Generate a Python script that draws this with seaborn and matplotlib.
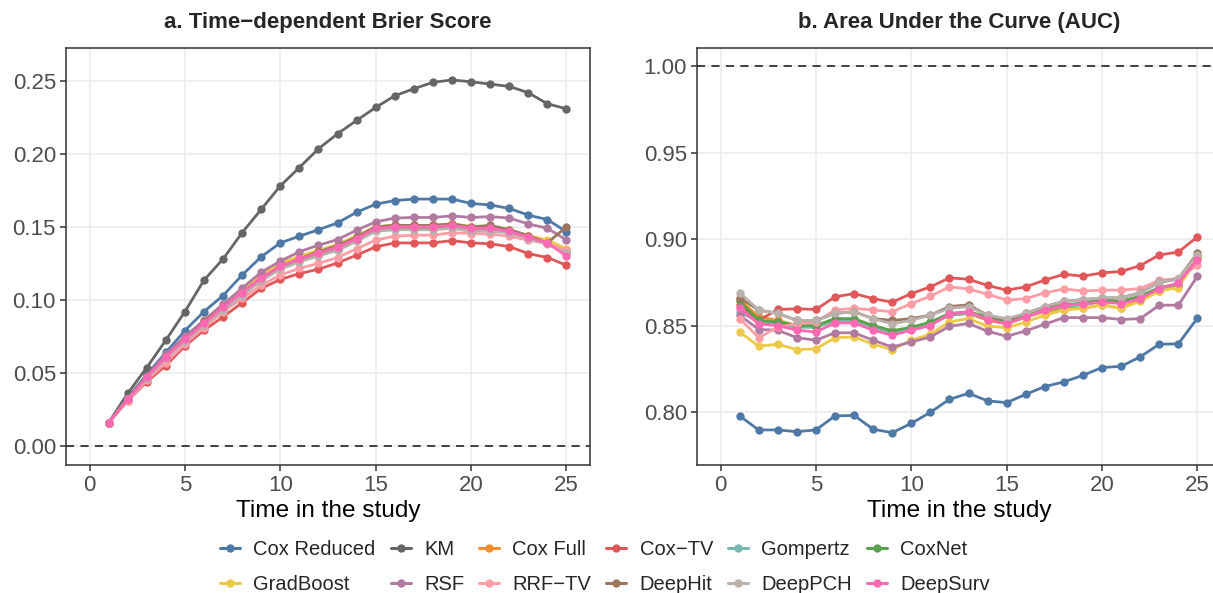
import numpy as np
import pandas as pd
import matplotlib
matplotlib.use("Agg")
import matplotlib.pyplot as plt
from matplotlib.lines import Line2D
import seaborn as sns

sns.set_theme(style="white")
plt.rcParams['font.family'] = ['Liberation Sans', 'DejaVu Sans']

MINUS = "\u2212"
times = list(range(1, 26))
models = ["Cox Reduced", "KM", "Cox Full", f"Cox{MINUS}TV", "Gompertz", "CoxNet",
          "GradBoost", "RSF", f"RRF{MINUS}TV", "DeepHit", "DeepPCH", "DeepSurv"]
colors = ["#4E79A7", "#666666", "#F28E2B", "#E15759", "#76B7B2", "#59A14F",
          "#EDC948", "#B07AA1", "#FF9DA7", "#9C755F", "#BAB0AC", "#FF69B4"]

# Brier scores
bs_cox_reduced = [0.016,0.033,0.049,0.064,0.079,0.092,0.103,0.117,0.1295,0.139,0.1436,0.148,0.1527,0.160,0.1655,0.168,0.169,0.169,0.169,0.166,0.165,0.1626,0.158,0.155,0.1466]
bs_km = [0.016,0.036,0.0537,0.0724,0.092,0.1135,0.128,0.146,0.162,0.178,0.1906,0.2034,0.2137,0.2228,0.2317,0.2397,0.2445,0.2489,0.2505,0.2493,0.2477,0.2461,0.2418,0.2342,0.2308]
bs_cox_full = [0.016,0.032,0.047,0.061,0.073,0.084,0.095,0.105,0.115,0.124,0.129,0.133,0.137,0.143,0.150,0.151,0.151,0.151,0.152,0.150,0.150,0.148,0.144,0.140,0.133]
bs_cox_tv = [0.016,0.031,0.044,0.055,0.0685,0.0792,0.0884,0.098,0.1078,0.114,0.118,0.121,0.1253,0.1306,0.1363,0.139,0.139,0.139,0.1406,0.139,0.1384,0.1365,0.1317,0.129,0.1237]
bs_gompertz = [0.016,0.032,0.047,0.061,0.073,0.084,0.094,0.104,0.114,0.122,0.127,0.131,0.135,0.141,0.148,0.149,0.149,0.149,0.150,0.148,0.148,0.146,0.143,0.139,0.133]
bs_coxnet = [0.016,0.032,0.047,0.061,0.073,0.084,0.094,0.104,0.114,0.122,0.127,0.131,0.134,0.141,0.148,0.149,0.149,0.149,0.150,0.148,0.148,0.147,0.143,0.139,0.132]
bs_gradboost = [0.016,0.032,0.047,0.061,0.074,0.086,0.097,0.107,0.117,0.125,0.130,0.134,0.138,0.144,0.150,0.151,0.151,0.151,0.152,0.150,0.150,0.148,0.144,0.141,0.135]
bs_rsf = [0.016,0.032,0.048,0.063,0.075,0.086,0.097,0.108,0.119,0.1265,0.133,0.1374,0.1413,0.1477,0.1534,0.156,0.1564,0.1564,0.1575,0.1564,0.157,0.156,0.152,0.149,0.141]
bs_rrf_tv = [0.016,0.031,0.045,0.057,0.070,0.081,0.092,0.101,0.110,0.117,0.1215,0.125,0.129,0.135,0.1409,0.1436,0.1443,0.1443,0.146,0.1454,0.145,0.1436,0.1409,0.1386,0.134]
bs_deephit = [0.016,0.032,0.047,0.061,0.073,0.085,0.095,0.105,0.115,0.123,0.128,0.133,0.137,0.143,0.150,0.151,0.151,0.151,0.152,0.150,0.151,0.148,0.144,0.139,0.150]
bs_deeppch = [0.016,0.032,0.046,0.060,0.072,0.083,0.093,0.103,0.113,0.121,0.126,0.130,0.134,0.140,0.147,0.148,0.148,0.148,0.149,0.147,0.147,0.146,0.142,0.138,0.132]
bs_deepsurv = [0.016,0.032,0.047,0.061,0.073,0.084,0.095,0.105,0.115,0.123,0.128,0.132,0.136,0.142,0.149,0.150,0.150,0.150,0.151,0.149,0.149,0.147,0.143,0.139,0.130]

# AUC (KM not shown)
auc_cox_reduced = [0.7977,0.7896,0.7896,0.7886,0.7896,0.7977,0.798,0.790,0.788,0.7934,0.7998,0.8073,0.8108,0.8064,0.8054,0.8102,0.8147,0.8174,0.8212,0.8257,0.8264,0.8319,0.8392,0.8394,0.8544]
auc_cox_full = [0.865,0.855,0.853,0.850,0.849,0.853,0.853,0.849,0.846,0.848,0.851,0.856,0.857,0.853,0.851,0.855,0.858,0.860,0.860,0.862,0.860,0.865,0.870,0.873,0.889]
auc_cox_tv = [0.862,0.853,0.8593,0.8597,0.8593,0.8666,0.8685,0.8656,0.8635,0.8685,0.8724,0.8776,0.8768,0.8732,0.8705,0.8724,0.8763,0.8797,0.8786,0.8805,0.8813,0.8847,0.8909,0.8925,0.9014]
auc_gompertz = [0.858,0.852,0.851,0.849,0.849,0.853,0.853,0.849,0.846,0.848,0.851,0.856,0.857,0.854,0.851,0.855,0.859,0.861,0.862,0.864,0.863,0.866,0.871,0.873,0.889]
auc_coxnet = [0.864,0.853,0.852,0.850,0.850,0.854,0.854,0.850,0.847,0.849,0.852,0.857,0.858,0.855,0.852,0.856,0.860,0.862,0.863,0.865,0.864,0.867,0.872,0.874,0.890]
auc_gradboost = [0.8463,0.838,0.8392,0.8361,0.8365,0.843,0.8434,0.8392,0.8361,0.8415,0.845,0.8521,0.854,0.8496,0.8488,0.852,0.856,0.859,0.860,0.862,0.860,0.864,0.870,0.872,0.889]
auc_rsf = [0.856,0.8477,0.8473,0.843,0.8415,0.8458,0.8458,0.8415,0.8376,0.8405,0.8434,0.8496,0.8512,0.8467,0.8438,0.8469,0.8508,0.8546,0.8546,0.8546,0.8535,0.854,0.8618,0.8618,0.8786]
auc_rrf_tv = [0.854,0.843,0.849,0.851,0.852,0.859,0.860,0.859,0.858,0.8627,0.867,0.8724,0.8712,0.8681,0.8647,0.8656,0.8689,0.8712,0.870,0.8705,0.8705,0.8714,0.8763,0.8772,0.885]
auc_deephit = [0.866,0.859,0.857,0.853,0.853,0.857,0.858,0.854,0.853,0.854,0.856,0.861,0.862,0.856,0.853,0.857,0.861,0.864,0.865,0.866,0.866,0.869,0.875,0.877,0.892]
auc_deeppch = [0.869,0.859,0.857,0.853,0.853,0.857,0.858,0.854,0.851,0.853,0.856,0.860,0.861,0.856,0.854,0.857,0.861,0.864,0.865,0.866,0.866,0.869,0.875,0.877,0.891]
auc_deepsurv = [0.860,0.851,0.850,0.8473,0.8463,0.8515,0.8515,0.8473,0.8444,0.8473,0.850,0.8566,0.858,0.8535,0.851,0.855,0.8589,0.8618,0.8624,0.8637,0.8627,0.8656,0.8714,0.8747,0.8882]

bs_series = [bs_cox_reduced, bs_km, bs_cox_full, bs_cox_tv, bs_gompertz, bs_coxnet,
             bs_gradboost, bs_rsf, bs_rrf_tv, bs_deephit, bs_deeppch, bs_deepsurv]
auc_series = [auc_cox_reduced, None, auc_cox_full, auc_cox_tv, auc_gompertz, auc_coxnet,
              auc_gradboost, auc_rsf, auc_rrf_tv, auc_deephit, auc_deeppch, auc_deepsurv]

def long_df(series):
    rows = []
    for m, vals in zip(models, series):
        if vals is None:
            continue
        for t, v in zip(times, vals):
            rows.append((m, t, v))
    return pd.DataFrame(rows, columns=["model", "time", "value"])

df_bs = long_df(bs_series)
df_auc = long_df(auc_series)
palette = dict(zip(models, colors))

W, H = 1213, 593
fig = plt.figure(figsize=(W / 100, H / 100), dpi=100)
panel_w = 524.6
ax1 = fig.add_axes([65.7 / W, (H - 465) / H, panel_w / W, (465 - 47.7) / H])
ax2 = fig.add_axes([696.7 / W, (H - 465) / H, panel_w / W, (465 - 47.7) / H])

for ax, df, title, yl, yticks, href in [
    (ax1, df_bs, f"a. Time{MINUS}dependent Brier Score", (-0.013, 0.2726),
     [0.0, 0.05, 0.10, 0.15, 0.20, 0.25], 0.0),
    (ax2, df_auc, "b. Area Under the Curve (AUC)", (0.7693, 1.0108),
     [0.80, 0.85, 0.90, 0.95, 1.00], 1.0),
]:
    ax.axhline(href, color="#333333", lw=1.3, ls=(0, (4.5, 3.5)), zorder=1)
    present = [m for m in models if m in set(df["model"])]
    for m in present:
        sub = df[df["model"] == m]
        sns.lineplot(data=sub, x="time", y="value", color=palette[m], ax=ax,
                     lw=2.0, marker="o", markersize=6, markeredgewidth=0,
                     legend=False, zorder=3)
    ax.set_xlim(-1.25, 26.25)
    ax.set_ylim(*yl)
    ax.set_xticks([0, 5, 10, 15, 20, 25])
    ax.set_yticks(yticks)
    ax.set_yticklabels([f"{v:.2f}" for v in yticks])
    ax.grid(True, color="#EBEBEB", lw=1.1)
    ax.set_axisbelow(True)
    for s in ax.spines.values():
        s.set_color("#333333")
        s.set_linewidth(1.1)
    ax.tick_params(axis="both", direction="out", length=4, width=1.1, color="#333333",
                   labelsize=16, labelcolor="#4D4D4D", pad=3, bottom=True, left=True)
    ax.set_xlabel("Time in the study", fontsize=17.6, color="black", labelpad=3)
    ax.set_ylabel("")
    ax.set_title(title, fontsize=16, fontweight="bold", pad=14)

handles = [Line2D([0], [0], color=c, lw=2.2, marker="o", markersize=6, markeredgewidth=0)
           for c in colors]
ncol = 6
order = []
for col in range(ncol):
    for row in range(2):
        order.append(row * ncol + col)
fig.legend([handles[i] for i in order], [models[i] for i in order],
           ncol=ncol, loc="center", bbox_to_anchor=(605 / W, 1 - 567 / H),
           frameon=False, fontsize=14.5, handlelength=1.0, handletextpad=0.65,
           columnspacing=0.75, labelspacing=0.75)

fig.savefig("out.png", dpi=100)
